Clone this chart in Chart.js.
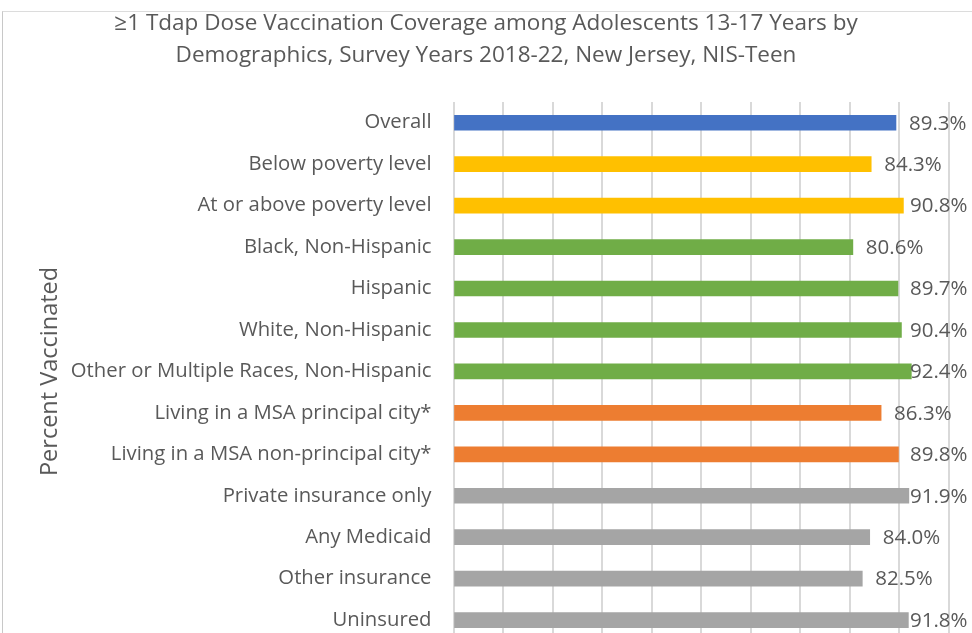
<!DOCTYPE html>
<html>
<head>
<meta charset="utf-8">
<script src="https://cdn.jsdelivr.net/npm/chart.js@4.4.1/dist/chart.umd.min.js"></script>
<style>
  html, body { margin: 0; padding: 0; background: #fff; overflow: hidden; }
  #frame { position: absolute; left: 2px; top: 11px; width: 990px; height: 700px;
           border-left: 1px solid #c8c8c8; border-top: 1px solid #dcdcdc; }
  #chart { position: absolute; left: 0; top: 0; }
</style>
</head>
<body>
<div id="frame"></div>
<canvas id="chart" width="972" height="675"></canvas>
<script>
const titleLines = [
    '\u22651 Tdap Dose Vaccination Coverage among Adolescents 13-17 Years by',
    'Demographics, Survey Years 2018-22, New Jersey, NIS-Teen'
];
const categories = [
    'Overall',
    'Below poverty level',
    'At or above poverty level',
    'Black, Non-Hispanic',
    'Hispanic',
    'White, Non-Hispanic',
    'Other or Multiple Races, Non-Hispanic',
    'Living in a MSA principal city*',
    'Living in a MSA non-principal city*',
    'Private insurance only',
    'Any Medicaid',
    'Other insurance',
    'Uninsured'
];
const coverage = [89.3, 84.3, 90.8, 80.6, 89.7, 90.4, 92.4, 86.3, 89.8, 91.9, 84.0, 82.5, 91.8];
const barColors = [
    '#4472C4',
    '#FFC000', '#FFC000',
    '#70AD47', '#70AD47', '#70AD47', '#70AD47',
    '#ED7D31', '#ED7D31',
    '#A5A5A5', '#A5A5A5', '#A5A5A5', '#A5A5A5'
];
const yAxisTitle = 'Percent Vaccinated';

const textGray = '#595959';
const fontFamily = "'Open Sans', sans-serif";

// value labels at the end of each bar, pushed back inside when near the edge
const valueLabels = {
    id: 'valueLabels',
    afterDatasetsDraw(chart) {
        const ctx = chart.ctx;
        const area = chart.chartArea;
        const meta = chart.getDatasetMeta(0);
        ctx.save();
        ctx.font = '20.5px ' + fontFamily;
        ctx.fillStyle = textGray;
        ctx.textAlign = 'left';
        ctx.textBaseline = 'middle';
        meta.data.forEach((bar, i) => {
            const txt = coverage[i].toFixed(1) + '%';
            const x = Math.min(bar.x + 13, area.right - 39);
            ctx.fillText(txt, x, bar.y + 1);
        });
        ctx.restore();
    }
};

const ctx = document.getElementById('chart');
new Chart(ctx, {
    type: 'bar',
    data: {
        labels: categories,
        datasets: [{
            data: coverage,
            backgroundColor: barColors,
            barThickness: 15
        }]
    },
    options: {
        indexAxis: 'y',
        responsive: false,
        animation: false,
        layout: { padding: { top: 0, left: 23, right: 23, bottom: 6 } },
        plugins: {
            legend: { display: false },
            tooltip: { enabled: false },
            title: {
                display: true,
                text: titleLines,
                color: textGray,
                font: { family: fontFamily, size: 22.5, weight: 'normal', lineHeight: 32 / 22.5 },
                padding: { top: 8, bottom: 30 }
            }
        },
        scales: {
            x: {
                min: 0,
                max: 100,
                ticks: { display: false, stepSize: 10 },
                grid: { color: '#d9d9d9', lineWidth: 2, drawTicks: false },
                border: { display: false },
                afterFit: s => { s.height = 0; }
            },
            y: {
                ticks: { color: textGray, font: { family: fontFamily, size: 20.3 }, padding: 22 },
                grid: { display: false, drawTicks: false },
                border: { display: false },
                title: {
                    display: true,
                    text: yAxisTitle,
                    color: textGray,
                    font: { family: fontFamily, size: 23.5 },
                    padding: { top: 13, bottom: 0 }
                },
                afterFit: s => { s.width = 430.5; }
            }
        }
    },
    plugins: [valueLabels]
});
</script>
</body>
</html>
